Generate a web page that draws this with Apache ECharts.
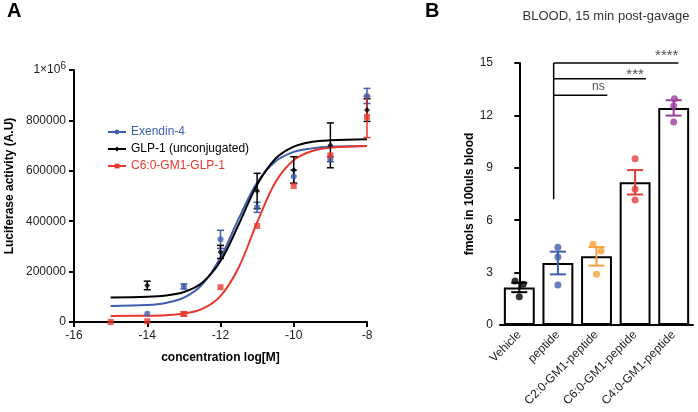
<!DOCTYPE html>
<html><head><meta charset="utf-8">
<script src="https://cdn.jsdelivr.net/npm/echarts@6/dist/echarts.min.js"></script>
<style>html,body{margin:0;padding:0;background:#fff}#c{width:698px;height:412px}</style>
</head><body><div id="c"></div>
<script>
// ---------- Panel A data ----------
const concX = [-15, -14, -13, -12, -11, -10, -9, -8];
const exendinMean = [null, 33000, 141000, 328000, 455000, 577000, 646000, 897000];
const exendinErr  = [0, 0, 10000, 36000, 20000, 26000, 10000, 30000];
const glpMean = [null, 145000, null, 278000, 520000, 603000, 701000, 841000];
const glpErr  = [0, 17000, 0, 26000, 70000, 53000, 89000, 45000];
const c6Mean = [0, 3000, 32000, 138000, 381000, 540000, 661000, 814000];
const c6Err  = [0, 0, 8000, 0, 0, 0, 0, 82000];
// fitted curves
const curveX = [-15, -14, -13.5, -13, -12.5, -12, -11.5, -11, -10.5, -10, -9.5, -9, -8];
const glpCurve = [97000, 99800, 104800, 119000, 156000, 242000, 388000, 545000, 648000, 696000, 715000, 721000, 725000];
const exendinCurve = [63600, 67600, 75600, 96800, 149000, 256000, 411000, 553000, 637000, 675000, 689000, 695000, 698000];
const c6Curve = [24000, 25000, 27200, 33600, 52300, 103000, 217500, 395000, 554500, 642700, 678700, 691500, 698000];
const aXTicks = [-16, -14, -12, -10, -8];
const aYTicks = [0, 200000, 400000, 600000, 800000, 1000000];

// ---------- Panel B data ----------
const groups = ['Vehicle', 'peptide', 'C2:0-GM1-peptide', 'C6:0-GM1-peptide', 'C4:0-GM1-peptide'];
const groupMean = [2.15, 3.55, 3.93, 8.17, 12.43];
const groupSem = [0.27, 0.65, 0.53, 0.70, 0.44];
const dotsVehicle = [2.52, 2.33, 1.62];
const dotsPeptide = [4.45, 3.89, 2.29];
const dotsC2 = [4.62, 4.24, 2.90];
const dotsC6 = [9.52, 7.77, 7.16];
const dotsC4 = [12.96, 12.54, 11.62];
const dotJitter = [[-0.11, 0.10, 0], [0, 0, 0], [-0.09, 0.12, 0], [0, 0, 0], [0.02, 0, 0]];
const sigLabels = ['ns', '***', '****'];
const sigLevels = [13.15, 14.1, 15];
const sigEnds = [2.28, 3.28, 4.12];
const sigLabelX = [2.05, 3.0, 3.82];
const sigLabelY = [13.62, 14.34, 15.43];

const BLUE = '#3f5fae', RED = '#e8372c', BLACK = '#000';
const groupColors = ['#000000', '#3f5fae', '#f4a13b', '#e0403a', '#9b3c9c'];

function pts(xs, ys) { return xs.map((x, i) => ys[i] == null ? null : [x, ys[i]]).filter(d => d); }
function errs(xs, ys, es) { return xs.map((x, i) => (ys[i] == null || !es[i]) ? null : [x, ys[i] - es[i], ys[i] + es[i]]).filter(d => d); }

function errRender(color, capHalf, lw) {
  return function (params, api) {
    const x = api.value(0), lo = api.value(1), hi = api.value(2);
    const a = api.coord([x, lo]), b = api.coord([x, hi]);
    const st = { stroke: color, lineWidth: lw };
    return { type: 'group', children: [
      { type: 'line', shape: { x1: a[0], y1: a[1], x2: b[0], y2: b[1] }, style: st },
      { type: 'line', shape: { x1: a[0] - capHalf, y1: a[1], x2: a[0] + capHalf, y2: a[1] }, style: st },
      { type: 'line', shape: { x1: b[0] - capHalf, y1: b[1], x2: b[0] + capHalf, y2: b[1] }, style: st }
    ] };
  };
}

const FONT = 'Liberation Sans, Arial, sans-serif';
const chart = echarts.init(document.getElementById('c'), null, { renderer: 'canvas' });

const series = [];
// Panel A curves
[['Exendin-4', exendinCurve, BLUE, 'circle'], ['GLP-1 (unconjugated)', glpCurve, BLACK, 'diamond'], ['C6:0-GM1-GLP-1', c6Curve, RED, 'rect']].forEach(s => {
  series.push({ name: s[0], type: 'line', xAxisIndex: 0, yAxisIndex: 0, data: pts(curveX, s[1]),
    smooth: 0.35, symbol: s[3], symbolSize: 6, showSymbol: false,
    lineStyle: { color: s[2], width: 2 }, itemStyle: { color: s[2] }, z: 2 });
});
// Panel A error bars + points
[['Exendin-4', exendinMean, exendinErr, BLUE, 'circle', 6], ['GLP-1 (unconjugated)', glpMean, glpErr, BLACK, 'diamond', 6], ['C6:0-GM1-GLP-1', c6Mean, c6Err, RED, 'rect', 6]].forEach(s => {
  series.push({ type: 'custom', xAxisIndex: 0, yAxisIndex: 0, renderItem: errRender(s[3], 3.5, 1.5),
    data: errs(concX, s[1], s[2]), z: 3, silent: true });
  series.push({ name: s[0], type: 'scatter', xAxisIndex: 0, yAxisIndex: 0, data: pts(concX, s[1]),
    symbol: s[4], symbolSize: s[5], itemStyle: { color: s[3] }, z: 4 });
});

// Panel B bars
series.push({ type: 'bar', xAxisIndex: 1, yAxisIndex: 1, data: groupMean, barWidth: '80%',
  itemStyle: { color: '#fff', borderColor: '#000', borderWidth: 2 }, z: 2 });
// Panel B error bars
groups.forEach((g, i) => {
  series.push({ type: 'custom', xAxisIndex: 1, yAxisIndex: 1, renderItem: errRender(groupColors[i], 8, 2),
    data: [[i, groupMean[i] - groupSem[i], groupMean[i] + groupSem[i]]], z: 3, silent: true });
});
// Panel B dots
[dotsVehicle, dotsPeptide, dotsC2, dotsC6, dotsC4].forEach((d, i) => {
  series.push({ type: 'scatter', xAxisIndex: 2, yAxisIndex: 1, symbol: 'circle', symbolSize: 7,
    data: d.map((v, k) => [i + dotJitter[i][k], v]), itemStyle: { color: groupColors[i] }, z: 5 });
});
// significance brackets
const bracketX = 0.89;
series.push({ type: 'line', xAxisIndex: 2, yAxisIndex: 1, data: [[bracketX, 7.2], [bracketX, sigLevels[2]]],
  symbol: 'none', lineStyle: { color: '#000', width: 1.5 }, clip: false, z: 4 });
sigLevels.forEach((lv, i) => {
  series.push({ type: 'line', xAxisIndex: 2, yAxisIndex: 1, data: [[bracketX, lv], [sigEnds[i], lv]],
    symbol: 'none', lineStyle: { color: '#000', width: 1.5 }, clip: false, z: 4 });
});
series.push({ type: 'scatter', xAxisIndex: 2, yAxisIndex: 1, symbolSize: 0, clip: false, silent: true,
  data: sigLabels.map((t, i) => ({ value: [sigLabelX[i], sigLabelY[i]], name: t,
    label: { fontSize: t === 'ns' ? 12 : 15 } })),
  label: { show: true, formatter: p => p.name, position: 'inside', color: '#222', fontSize: 13, fontFamily: FONT } });

const option = {
  animation: false,
  backgroundColor: '#fff',
  textStyle: { fontFamily: FONT },
  title: [
    { text: 'A', left: 2, top: -4, textStyle: { fontSize: 20, fontWeight: 'bold', color: '#000', fontFamily: FONT } },
    { text: 'B', left: 420, top: -4, textStyle: { fontSize: 20, fontWeight: 'bold', color: '#000', fontFamily: FONT } },
    { text: 'BLOOD, 15 min post-gavage', left: 601, textAlign: 'center', top: 5, textStyle: { fontSize: 13, fontWeight: 'normal', color: '#333', fontFamily: FONT } }
  ],
  legend: {
    orient: 'vertical', left: 102, top: 121, itemGap: 5, itemWidth: 18, itemHeight: 6,
    textStyle: { fontSize: 12, fontFamily: FONT },
    data: [
      { name: 'Exendin-4', textStyle: { color: BLUE } },
      { name: 'GLP-1 (unconjugated)', textStyle: { color: '#000' } },
      { name: 'C6:0-GM1-GLP-1', textStyle: { color: RED } }
    ]
  },
  grid: [
    { left: 74, top: 70, width: 293, height: 252 },
    { left: 500, top: 63, width: 193, height: 262 }
  ],
  xAxis: [
    { gridIndex: 0, type: 'value', min: aXTicks[0], max: aXTicks[aXTicks.length - 1], interval: 2,
      name: 'concentration log[M]', nameLocation: 'middle', nameGap: 30,
      nameTextStyle: { fontWeight: 'bold', fontSize: 12, color: '#000' },
      axisLine: { lineStyle: { color: '#000', width: 2 } }, axisTick: { length: 5, lineStyle: { width: 2 } },
      axisLabel: { color: '#222', fontSize: 12, margin: 8 }, splitLine: { show: false } },
    { gridIndex: 1, type: 'category', data: groups,
      axisLine: { lineStyle: { color: '#000', width: 2 } }, axisTick: { alignWithLabel: true, length: 5, lineStyle: { width: 1.5 } },
      axisLabel: { rotate: 45, color: '#222', fontSize: 12, margin: 8, interval: 0 } },
    { gridIndex: 1, type: 'value', min: -0.5, max: 4.5, show: false }
  ],
  yAxis: [
    { gridIndex: 0, type: 'value', min: 0, max: aYTicks[aYTicks.length - 1], interval: 200000,
      name: 'Luciferase activity (A.U)', nameLocation: 'middle', nameGap: 58,
      nameTextStyle: { fontWeight: 'bold', fontSize: 12, color: '#000', padding: [0, 0, 0, 20] },
      axisLine: { show: true, lineStyle: { color: '#000', width: 2 } }, axisTick: { show: true, length: 5, lineStyle: { width: 2 } },
      axisLabel: { color: '#222', fontSize: 12, margin: 8,
        formatter: v => v === 1000000 ? '{a|1×10}{s|6}' : String(v),
        rich: { a: { fontSize: 12, color: '#222' }, s: { fontSize: 10, color: '#222', verticalAlign: 'bottom', padding: [0, 0, 8, 0] } } },
      splitLine: { show: false } },
    { gridIndex: 1, type: 'value', min: 0, max: 15, interval: 3,
      name: 'fmols in 100uls blood', nameLocation: 'middle', nameGap: 18,
      nameTextStyle: { fontWeight: 'bold', fontSize: 12, color: '#000' },
      axisLine: { show: true, lineStyle: { color: '#000', width: 2 } }, axisTick: { show: true, length: 5, lineStyle: { width: 2 } },
      axisLabel: { color: '#222', fontSize: 12, margin: 7 }, splitLine: { show: false } }
  ],
  series: series
};
chart.setOption(option);
</script>
</body></html>
